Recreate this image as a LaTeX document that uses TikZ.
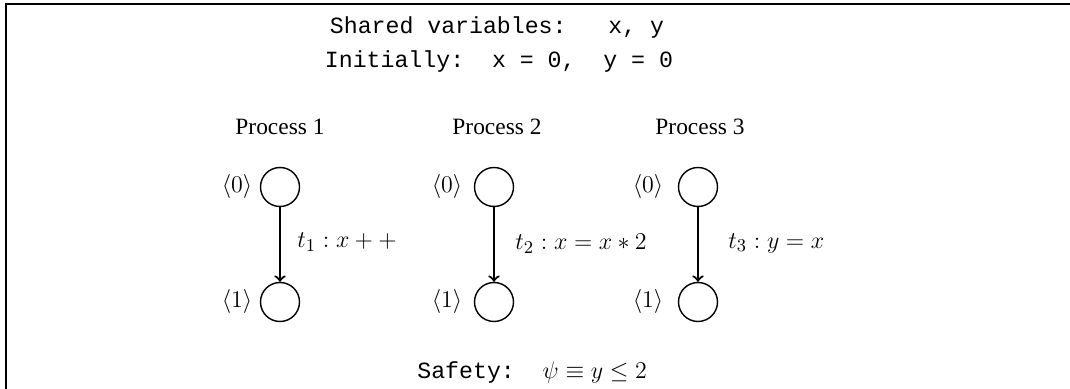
\documentclass[tikz,border=0pt]{standalone}
\usepackage{fontspec}
\setmainfont{Liberation Serif}
\setmonofont{Liberation Mono}
\begin{document}
\begin{tikzpicture}[x=0.5pt,y=-0.5pt,
  state/.style={draw,circle,line width=0.7pt,minimum size=19.5pt,inner sep=0pt},
  mono/.style={font=\fontsize{11.6}{14}\ttfamily,inner sep=0pt},
  ptitle/.style={font=\fontsize{11.7}{14}\selectfont,inner sep=0pt},
  loc/.style={font=\fontsize{12.5}{15}\selectfont,inner sep=0pt},
  trans/.style={->,line width=1.1pt},
  tlabel/.style={font=\fontsize{12.2}{15}\selectfont,inner sep=0pt,anchor=west}]
\useasboundingbox (0,0) rectangle (1070,389);
\coordinate (fbl) at (6,389);
\coordinate (ftl) at (6,4);
\coordinate (ftr) at (1070,4);
\draw[line width=1pt] (fbl) -- (ftl) -- (ftr);

\node[mono] (shared) at (497,28) {Shared variables:\ \ \ x, y};
\node[mono] (init) at (499,62) {Initially:\ \ x = 0,\ \ y = 0};

\node[ptitle] (pr1) at (280,127) {Process 1};
\node[ptitle] (pr2) at (497,127) {Process 2};
\node[ptitle] (pr3) at (700,127) {Process 3};

\node[state] (a0) at (280,187) {};
\node[state] (a1) at (280,302) {};
\node[state] (b0) at (494,187) {};
\node[state] (b1) at (494,302) {};
\node[state] (c0) at (698,187) {};
\node[state] (c1) at (698,302) {};

\node[loc] (la0) at (237,187) {$\langle 0\rangle$};
\node[loc] (la1) at (237,302) {$\langle 1\rangle$};
\node[loc] (lb0) at (447,187) {$\langle 0\rangle$};
\node[loc] (lb1) at (447,302) {$\langle 1\rangle$};
\node[loc] (lc0) at (648,187) {$\langle 0\rangle$};
\node[loc] (lc1) at (648,302) {$\langle 1\rangle$};

\draw[trans] (a0) -- (a1);
\draw[trans] (b0) -- (b1);
\draw[trans] (c0) -- (c1);

\node[tlabel] (ta) at (297,242) {$t_1 : x++$};
\node[tlabel] (tb) at (515,244) {$t_2 : x = x*2$};
\node[tlabel] (tc) at (728,243) {$t_3 : y = x$};

\node[mono,anchor=west] (safety) at (417,373) {Safety:\ \ \fontsize{12.2}{15}\selectfont$\psi \equiv y \leq 2$};
\end{tikzpicture}
\end{document}
